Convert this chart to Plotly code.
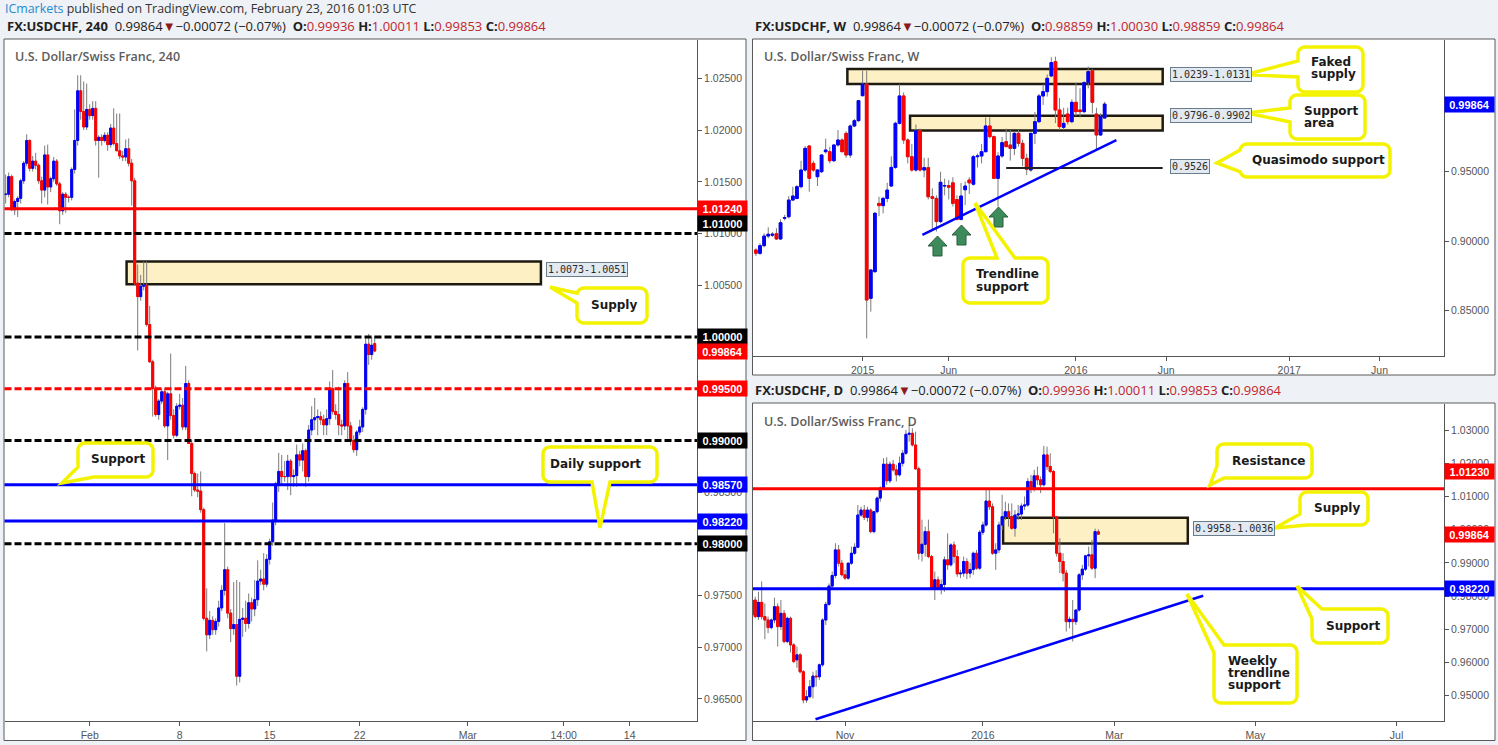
import math
import pandas as pd
import plotly.graph_objects as go

W, H = 1498, 745

# ------------------------------------------------------------------ data
# 4-hour candles (U.S. Dollar/Swiss Franc, 240)
H4_OPEN = [1.0138, 1.0138, 1.0155, 1.0123, 1.0131, 1.0134, 1.0151, 1.0168, 1.0190, 1.0163,
           1.0170, 1.0166, 1.0151, 1.0142, 1.0176, 1.0145, 1.0153, 1.0170, 1.0148, 1.0122,
           1.0138, 1.0135, 1.0135, 1.0162, 1.0190, 1.0238, 1.0218, 1.0203, 1.0220, 1.0214,
           1.0221, 1.0190, 1.0193, 1.0190, 1.0195, 1.0186, 1.0202, 1.0187, 1.0180, 1.0175,
           1.0174, 1.0182, 1.0168, 1.0151, 1.0052, 1.0039, 1.0049, 1.0050, 1.0012, 0.9976,
           0.9950, 0.9925, 0.9938, 0.9947, 0.9914, 0.9945, 0.9924, 0.9905, 0.9933, 0.9934,
           0.9913, 0.9955, 0.9897, 0.9868, 0.9852, 0.9851, 0.9833, 0.9728, 0.9712, 0.9726,
           0.9717, 0.9725, 0.9738, 0.9755, 0.9775, 0.9733, 0.9718, 0.9722, 0.9672, 0.9727,
           0.9728, 0.9723, 0.9743, 0.9737, 0.9746, 0.9764, 0.9766, 0.9761, 0.9785, 0.9802,
           0.9823, 0.9858, 0.9870, 0.9865, 0.9865, 0.9880, 0.9865, 0.9866, 0.9886, 0.9881,
           0.9890, 0.9865, 0.9910, 0.9920, 0.9922, 0.9923, 0.9920, 0.9915, 0.9921, 0.9950,
           0.9928, 0.9925, 0.9915, 0.9914, 0.9955, 0.9914, 0.9900, 0.9891, 0.9908, 0.9913,
           0.9930, 0.9993, 0.9983, 0.99936]
H4_HIGH = [1.0157, 1.0159, 1.0157, 1.0133, 1.0136, 1.0153, 1.0170, 1.0196, 1.0191, 1.0175,
           1.0178, 1.0168, 1.0155, 1.0185, 1.0186, 1.0155, 1.0174, 1.0172, 1.0150, 1.0140,
           1.0140, 1.0137, 1.0164, 1.0220, 1.0253, 1.0253, 1.0247, 1.0245, 1.0225, 1.0228,
           1.0228, 1.0195, 1.0196, 1.0198, 1.0198, 1.0206, 1.0221, 1.0216, 1.0216, 1.0180,
           1.0191, 1.0192, 1.0172, 1.0154, 1.0070, 1.0060, 1.0073, 1.0073, 1.0030, 0.9978,
           0.9953, 0.9940, 0.9950, 0.9950, 0.9947, 0.9984, 0.9930, 0.9936, 0.9945, 0.9941,
           0.9972, 0.9958, 0.9900, 0.9870, 0.9868, 0.9870, 0.9835, 0.9757, 0.9735, 0.9730,
           0.9728, 0.9745, 0.9760, 0.9820, 0.9778, 0.9737, 0.9763, 0.9765, 0.9763, 0.9738,
           0.9745, 0.9752, 0.9748, 0.9765, 0.9784, 0.9775, 0.9791, 0.9790, 0.9805, 0.9840,
           0.9860, 0.9888, 0.9886, 0.9880, 0.9886, 0.9882, 0.9872, 0.9896, 0.9890, 0.9897,
           0.9892, 0.9915, 0.9933, 0.9941, 0.9930, 0.9928, 0.9925, 0.9930, 0.9957, 0.9968,
           0.9935, 0.9952, 0.9920, 0.9958, 0.9966, 0.9918, 0.9905, 0.9910, 0.9920, 0.9932,
           0.9999, 1.0003, 1.0000, 1.00011]
H4_LOW = [1.0129, 1.0135, 1.0122, 1.0118, 1.0116, 1.0129, 1.0148, 1.0165, 1.0160, 1.0160,
          1.0162, 1.0148, 1.0129, 1.0135, 1.0128, 1.0140, 1.0150, 1.0146, 1.0109, 1.0118,
          1.0120, 1.0130, 1.0132, 1.0158, 1.0185, 1.0210, 1.0200, 1.0200, 1.0210, 1.0210,
          1.0185, 1.0154, 1.0185, 1.0188, 1.0180, 1.0183, 1.0185, 1.0180, 1.0172, 1.0170,
          1.0170, 1.0165, 1.0127, 1.0050, 0.9987, 1.0035, 1.0045, 1.0010, 0.9975, 0.9923,
          0.9923, 0.9920, 0.9935, 0.9912, 0.9881, 0.9920, 0.9902, 0.9903, 0.9930, 0.9910,
          0.9910, 0.9897, 0.9846, 0.9850, 0.9845, 0.9830, 0.9726, 0.9696, 0.9708, 0.9712,
          0.9712, 0.9720, 0.9735, 0.9750, 0.9728, 0.9705, 0.9712, 0.9663, 0.9666, 0.9710,
          0.9715, 0.9718, 0.9725, 0.9730, 0.9740, 0.9760, 0.9755, 0.9758, 0.9780, 0.9798,
          0.9818, 0.9850, 0.9856, 0.9860, 0.9852, 0.9847, 0.9855, 0.9855, 0.9875, 0.9870,
          0.9855, 0.9860, 0.9905, 0.9910, 0.9905, 0.9915, 0.9905, 0.9905, 0.9915, 0.9925,
          0.9920, 0.9905, 0.9905, 0.9910, 0.9900, 0.9895, 0.9888, 0.9885, 0.9905, 0.9908,
          0.9925, 0.9973, 0.9978, 0.99853]
H4_CLOSE = [1.0138, 1.0155, 1.0123, 1.0131, 1.0134, 1.0151, 1.0168, 1.0190, 1.0163, 1.0170,
            1.0166, 1.0151, 1.0142, 1.0176, 1.0145, 1.0153, 1.0170, 1.0148, 1.0122, 1.0138,
            1.0135, 1.0135, 1.0162, 1.0190, 1.0238, 1.0218, 1.0203, 1.0220, 1.0214, 1.0221,
            1.0190, 1.0193, 1.0190, 1.0195, 1.0186, 1.0202, 1.0187, 1.0180, 1.0175, 1.0174,
            1.0182, 1.0168, 1.0151, 1.0052, 1.0039, 1.0049, 1.0050, 1.0012, 0.9976, 0.9950,
            0.9925, 0.9938, 0.9947, 0.9914, 0.9945, 0.9924, 0.9905, 0.9933, 0.9934, 0.9913,
            0.9955, 0.9897, 0.9868, 0.9852, 0.9851, 0.9833, 0.9728, 0.9712, 0.9726, 0.9717,
            0.9725, 0.9738, 0.9755, 0.9775, 0.9733, 0.9718, 0.9722, 0.9672, 0.9727, 0.9728,
            0.9723, 0.9743, 0.9737, 0.9746, 0.9764, 0.9766, 0.9761, 0.9785, 0.9802, 0.9823,
            0.9858, 0.9870, 0.9865, 0.9865, 0.9880, 0.9865, 0.9866, 0.9886, 0.9881, 0.9890,
            0.9865, 0.9910, 0.9920, 0.9922, 0.9923, 0.9920, 0.9915, 0.9921, 0.9950, 0.9928,
            0.9925, 0.9915, 0.9914, 0.9955, 0.9914, 0.9900, 0.9891, 0.9908, 0.9913, 0.9930,
            0.9993, 0.9983, 0.9992, 0.99864]
H4_TICK_LABELS = ["Feb", "8", "15", "22", "Mar", "14:00", "14"]
H4_TICK_BARS = [28, 58, 88, 118, 154, 186, 208]
H4_LEVELS = [1.0124, 1.0100, 1.0000, 0.9950, 0.9900, 0.9857, 0.9822, 0.9800]
H4_SUPPLY = (1.0051, 1.0073)

# Weekly candles (U.S. Dollar/Swiss Franc, W), last week starts 2016-02-22
WK_LAST = "2016-02-22"
WK_OPEN = [0.8937, 0.8913, 0.8968, 0.9037, 0.9043, 0.9054, 0.9016, 0.9165, 0.9176, 0.9296,
           0.9308, 0.9392, 0.9512, 0.9685, 0.9560, 0.9464, 0.9500, 0.9644, 0.9644, 0.9579,
           0.9692, 0.9728, 0.9776, 0.9620, 0.9829, 0.9867, 1.0047, 1.0131, 0.8589, 0.8781,
           0.9272, 0.9256, 0.9308, 0.9397, 0.9531, 0.9848, 1.0045, 0.9728, 0.9608, 0.9512,
           0.9795, 0.9512, 0.9529, 0.9320, 0.9308, 0.9141, 0.9397, 0.9400, 0.9420, 0.9300,
           0.9157, 0.9370, 0.9440, 0.9410, 0.9608, 0.9613, 0.9644, 0.9829, 0.9752, 0.9452,
           0.9613, 0.9716, 0.9692, 0.9668, 0.9776, 0.9704, 0.9596, 0.9512, 0.9776, 0.9860,
           1.0045, 1.0076, 1.0189, 1.0292, 0.9944, 0.9819, 0.9915, 0.9860, 0.9999, 0.9944,
           0.9932, 1.0141, 1.0227, 0.9915, 0.9764, 0.98859]
WK_HIGH = [0.8949, 0.8985, 0.9057, 0.9100, 0.9065, 0.9093, 0.9157, 0.9190, 0.9325, 0.9392,
           0.9404, 0.9579, 0.9685, 0.9692, 0.9579, 0.9520, 0.9625, 0.9738, 0.9680, 0.9700,
           0.9800, 0.9740, 0.9790, 0.9840, 0.9880, 1.0015, 1.0227, 1.0227, 0.8800, 0.9210,
           0.9320, 0.9320, 0.9420, 0.9610, 0.9860, 1.0129, 1.0070, 0.9740, 0.9700, 0.9840,
           0.9810, 0.9600, 0.9600, 0.9380, 0.9330, 0.9500, 0.9450, 0.9440, 0.9460, 0.9330,
           0.9420, 0.9430, 0.9460, 0.9620, 0.9630, 0.9700, 0.9890, 0.9891, 0.9760, 0.9640,
           0.9750, 0.9810, 0.9800, 0.9790, 0.9800, 0.9730, 0.9630, 0.9780, 0.9930, 1.0060,
           1.0130, 1.0200, 1.0323, 1.0328, 1.0030, 0.9960, 0.9960, 1.0020, 1.0140, 1.0100,
           1.0150, 1.0257, 1.0240, 0.9960, 0.9920, 1.00030]
WK_LOW = [0.8894, 0.8901, 0.8956, 0.9021, 0.9030, 0.9009, 0.9009, 0.9150, 0.9165, 0.9291,
          0.9301, 0.9380, 0.9500, 0.9356, 0.9500, 0.9397, 0.9490, 0.9630, 0.9560, 0.9570,
          0.9680, 0.9640, 0.9600, 0.9600, 0.9820, 0.9860, 1.0040, 0.8301, 0.8493, 0.8770,
          0.9180, 0.9200, 0.9280, 0.9390, 0.9520, 0.9840, 0.9700, 0.9560, 0.9500, 0.9500,
          0.9500, 0.9460, 0.9300, 0.9081, 0.9070, 0.9130, 0.9330, 0.9300, 0.9250, 0.9150,
          0.9150, 0.9260, 0.9340, 0.9400, 0.9530, 0.9560, 0.9640, 0.9740, 0.9450, 0.9248,
          0.9600, 0.9680, 0.9580, 0.9620, 0.9680, 0.9540, 0.9476, 0.9500, 0.9700, 0.9850,
          0.9980, 1.0040, 1.0180, 0.9850, 0.9800, 0.9800, 0.9840, 0.9850, 0.9900, 0.9890,
          0.9920, 1.0100, 0.9920, 0.9660, 0.9760, 0.98859]
WK_CLOSE = [0.8913, 0.8968, 0.9037, 0.9050, 0.9050, 0.9016, 0.9133, 0.9169, 0.9296, 0.9325,
            0.9392, 0.9512, 0.9668, 0.9452, 0.9512, 0.9512, 0.9620, 0.9656, 0.9579, 0.9692,
            0.9728, 0.9644, 0.9620, 0.9829, 0.9867, 1.0011, 1.0131, 0.8577, 0.8793, 0.9201,
            0.9256, 0.9308, 0.9368, 0.9531, 0.9848, 1.0045, 0.9728, 0.9608, 0.9512, 0.9795,
            0.9512, 0.9529, 0.9320, 0.9308, 0.9141, 0.9424, 0.9400, 0.9388, 0.9272, 0.9157,
            0.9325, 0.9397, 0.9420, 0.9608, 0.9613, 0.9644, 0.9829, 0.9752, 0.9452, 0.9613,
            0.9709, 0.9680, 0.9668, 0.9776, 0.9704, 0.9596, 0.9517, 0.9776, 0.9860, 1.0045,
            1.0076, 1.0172, 1.0285, 0.9944, 0.9824, 0.9848, 0.9860, 0.9999, 0.9932, 0.9932,
            1.0141, 1.0220, 0.9999, 0.9764, 0.9896, 0.99864]
WK_TICK_LABELS = ["2015", "Jun", "2016", "Jun", "2017", "Jun"]
WK_TICK_DATES = ["2015-01-05", "2015-06-01", "2016-01-04", "2016-06-06", "2017-01-02", "2017-06-05"]
WK_FAKED_SUPPLY = (1.0131, 1.0239)
WK_SUPPORT_AREA = (0.9796, 0.9902)
WK_QUASIMODO = 0.9526
WK_TREND = (("2015-04-17", 0.9045), ("2016-03-13", 0.9728))

# Daily candles (U.S. Dollar/Swiss Franc, D), last day 2016-02-23
D_LAST = "2016-02-23"
D_HOLIDAYS = ["2015-12-25", "2016-01-01"]
D_OPEN = [0.9750, 0.9743, 0.9788, 0.9738, 0.9781, 0.9738, 0.9728, 0.9705, 0.9728, 0.9768,
          0.9708, 0.9748, 0.9663, 0.9733, 0.9653, 0.9608, 0.9623, 0.9572, 0.9487, 0.9497,
          0.9527, 0.9559, 0.9557, 0.9593, 0.9728, 0.9775, 0.9830, 0.9862, 0.9939, 0.9899,
          0.9864, 0.9854, 0.9899, 0.9929, 0.9947, 1.0044, 1.0059, 1.0037, 1.0059, 0.9994,
          1.0054, 1.0095, 1.0125, 1.0197, 1.0147, 1.0197, 1.0180, 1.0165, 1.0200, 1.0230,
          1.0287, 1.0290, 1.0255, 1.0183, 0.9929, 0.9956, 0.9994, 0.9919, 0.9823, 0.9849,
          0.9823, 0.9835, 0.9909, 0.9894, 0.9954, 0.9919, 0.9867, 0.9869, 0.9904, 0.9869,
          0.9880, 0.9929, 0.9884, 0.9992, 1.0014, 1.0086, 1.0069, 0.9929, 0.9939, 1.0014,
          1.0039, 1.0054, 1.0039, 1.0004, 1.0044, 1.0047, 1.0071, 1.0074, 1.0145, 1.0125,
          1.0162, 1.0150, 1.0135, 1.0225, 1.0190, 1.0175, 1.0039, 0.9929, 0.9904, 0.9869,
          0.9723, 0.9730, 0.9723, 0.9758, 0.9864, 0.9881, 0.9921, 0.9924, 0.9884, 0.99936]
D_HIGH = [0.9770, 0.9798, 0.9798, 0.9813, 0.9844, 0.9778, 0.9738, 0.9733, 0.9795, 0.9778,
          0.9788, 0.9758, 0.9738, 0.9738, 0.9658, 0.9648, 0.9628, 0.9577, 0.9517, 0.9547,
          0.9572, 0.9577, 0.9597, 0.9733, 0.9783, 0.9838, 0.9874, 0.9959, 0.9954, 0.9909,
          0.9879, 0.9901, 0.9949, 0.9959, 1.0074, 1.0069, 1.0074, 1.0069, 1.0064, 1.0054,
          1.0100, 1.0130, 1.0215, 1.0218, 1.0205, 1.0210, 1.0195, 1.0220, 1.0240, 1.0300,
          1.0315, 1.0305, 1.0295, 1.0190, 1.0030, 1.0009, 1.0030, 0.9924, 0.9874, 0.9859,
          0.9850, 0.9919, 0.9989, 0.9959, 0.9964, 0.9939, 0.9879, 0.9919, 0.9914, 0.9900,
          0.9934, 0.9939, 0.9999, 1.0024, 1.0125, 1.0125, 1.0079, 0.9959, 1.0024, 1.0105,
          1.0084, 1.0079, 1.0079, 1.0059, 1.0074, 1.0079, 1.0100, 1.0155, 1.0165, 1.0180,
          1.0190, 1.0160, 1.0252, 1.0250, 1.0230, 1.0180, 1.0039, 0.9974, 0.9929, 0.9879,
          0.9738, 0.9788, 0.9758, 0.9869, 0.9894, 0.9924, 0.9949, 0.9969, 1.0003, 1.00011]
D_LOW = [0.9710, 0.9710, 0.9733, 0.9728, 0.9730, 0.9670, 0.9688, 0.9700, 0.9718, 0.9648,
         0.9698, 0.9658, 0.9658, 0.9630, 0.9598, 0.9584, 0.9567, 0.9477, 0.9479, 0.9492,
         0.9492, 0.9527, 0.9547, 0.9587, 0.9713, 0.9771, 0.9823, 0.9854, 0.9889, 0.9859,
         0.9849, 0.9849, 0.9894, 0.9924, 0.9944, 1.0039, 1.0029, 1.0024, 0.9989, 0.9989,
         1.0049, 1.0084, 1.0120, 1.0135, 1.0140, 1.0175, 1.0145, 1.0160, 1.0190, 1.0225,
         1.0265, 1.0250, 1.0180, 0.9910, 0.9904, 0.9919, 0.9914, 0.9818, 0.9788, 0.9818,
         0.9805, 0.9813, 0.9879, 0.9889, 0.9899, 0.9858, 0.9854, 0.9858, 0.9851, 0.9855,
         0.9864, 0.9879, 0.9879, 0.9984, 1.0009, 1.0059, 0.9924, 0.9879, 0.9929, 0.9999,
         1.0029, 1.0009, 1.0000, 0.9979, 1.0029, 1.0029, 1.0059, 1.0069, 1.0110, 1.0115,
         1.0135, 1.0110, 1.0130, 1.0180, 1.0170, 0.9989, 0.9919, 0.9869, 0.9844, 0.9693,
         0.9703, 0.9663, 0.9713, 0.9753, 0.9849, 0.9876, 0.9889, 0.9879, 0.9854, 0.99853]
D_CLOSE = [0.9743, 0.9788, 0.9738, 0.9781, 0.9738, 0.9728, 0.9705, 0.9728, 0.9768, 0.9708,
           0.9748, 0.9663, 0.9733, 0.9653, 0.9603, 0.9623, 0.9572, 0.9487, 0.9497, 0.9527,
           0.9559, 0.9557, 0.9593, 0.9728, 0.9775, 0.9830, 0.9862, 0.9939, 0.9899, 0.9864,
           0.9854, 0.9899, 0.9929, 0.9947, 1.0044, 1.0059, 1.0037, 1.0059, 0.9994, 1.0054,
           1.0095, 1.0125, 1.0197, 1.0147, 1.0197, 1.0180, 1.0165, 1.0200, 1.0230, 1.0287,
           1.0290, 1.0255, 1.0183, 0.9929, 0.9956, 0.9994, 0.9919, 0.9823, 0.9849, 0.9823,
           0.9835, 0.9909, 0.9894, 0.9954, 0.9919, 0.9867, 0.9869, 0.9904, 0.9869, 0.9880,
           0.9929, 0.9884, 0.9992, 1.0014, 1.0086, 1.0069, 0.9929, 0.9939, 1.0014, 1.0039,
           1.0054, 1.0039, 1.0004, 1.0044, 1.0047, 1.0071, 1.0074, 1.0145, 1.0125, 1.0162,
           1.0150, 1.0135, 1.0225, 1.0190, 1.0175, 1.0039, 0.9929, 0.9904, 0.9869, 0.9723,
           0.9730, 0.9723, 0.9758, 0.9864, 0.9881, 0.9921, 0.9924, 0.9884, 0.9994, 0.99864]
D_TICK_LABELS = ["Nov", "2016", "Mar", "May", "Jul"]
D_TICK_MONTHS = ["2015-11-01", "2016-01-01", "2016-03-01", "2016-05-01", "2016-07-01"]
D_RESISTANCE = 1.0123
D_SUPPORT = 0.9822
D_SUPPLY = (0.9958, 1.0036)
D_TREND = ((20.8, 0.9429), (141.7, 0.9801))

# ------------------------------------------------------------------ style
BLUE, RED, BLACK = "#0000ff", "#ff0000", "#000000"
WICK = "#7b7b7b"
AXIS = "#555555"
ZONE_FILL, ZONE_LINE = "#fdf0c4", "#1e1a10"
YELLOW = "#f3f300"
VALRED = "#c0272d"
TICKFONT = dict(family="Arial", size=10.5, color="#555555")


def px(x):
    return x / W


def py(y):
    return 1 - y / H


fig = go.Figure()


def add_candles(x, o, h, l, c, xa, ya):
    fig.add_trace(go.Candlestick(
        x=x, open=o, high=h, low=l, close=c, xaxis=xa, yaxis=ya,
        increasing=dict(line=dict(color=WICK, width=1), fillcolor=WICK),
        decreasing=dict(line=dict(color=WICK, width=1), fillcolor=WICK),
        whiskerwidth=0, hoverinfo="skip", showlegend=False))
    top = [max(a, b) for a, b in zip(o, c)]
    bot = [min(a, b) for a, b in zip(o, c)]
    fig.add_trace(go.Candlestick(
        x=x, open=o, high=top, low=bot, close=c, xaxis=xa, yaxis=ya,
        increasing=dict(line=dict(color=BLUE, width=1), fillcolor=BLUE),
        decreasing=dict(line=dict(color=RED, width=1), fillcolor=RED),
        whiskerwidth=0, hoverinfo="skip", showlegend=False))


# 4h
h4_x = list(range(len(H4_OPEN)))
add_candles(h4_x, H4_OPEN, H4_HIGH, H4_LOW, H4_CLOSE, "x", "y")
# weekly
wk_x = pd.date_range(end=WK_LAST, periods=len(WK_OPEN), freq="7D")
add_candles(wk_x, WK_OPEN, WK_HIGH, WK_LOW, WK_CLOSE, "x2", "y2")
# daily (trading-day index)
cbd = pd.offsets.CustomBusinessDay(holidays=D_HOLIDAYS)
d_dates = pd.date_range(end=D_LAST, periods=len(D_OPEN), freq=cbd)
cal = pd.date_range(start=d_dates[0], periods=400, freq=cbd)
d_tickvals = [int((cal < pd.Timestamp(m)).sum()) for m in D_TICK_MONTHS]
d_x = list(range(len(D_OPEN)))
add_candles(d_x, D_OPEN, D_HIGH, D_LOW, D_CLOSE, "x3", "y3")
d_last = len(D_OPEN) - 1

# ------------------------------------------------------------------ axes
xcommon = dict(showgrid=False, zeroline=False, showline=True, linecolor=AXIS, linewidth=1,
               ticks="outside", ticklen=4, tickcolor=AXIS, tickfont=TICKFONT,
               rangeslider=dict(visible=False), fixedrange=True)
ycommon = dict(showgrid=False, zeroline=False, showline=True, linecolor=AXIS, linewidth=1,
               side="right", ticks="outside", ticklen=4, tickcolor=AXIS, tickfont=TICKFONT,
               tickformat=".5f", tick0=0, fixedrange=True)

fig.update_layout(
    width=W, height=H, autosize=False,
    margin=dict(l=0, r=0, t=0, b=0, pad=0),
    paper_bgcolor="#eef1f5", plot_bgcolor="white",
    hovermode=False, showlegend=False, dragmode=False,
    boxgap=0.35, boxgroupgap=0,
    xaxis=dict(xcommon, domain=[px(4.5), px(697)], anchor="y", range=[-0.4, 230.43],
               tickmode="array", tickvals=H4_TICK_BARS, ticktext=H4_TICK_LABELS),
    yaxis=dict(ycommon, domain=[py(721), py(39.5)], anchor="x", range=[0.96287, 1.02876], dtick=0.005),
    xaxis2=dict(xcommon, type="date", domain=[px(753), px(1444)], anchor="y2",
                range=["2014-07-02", "2017-09-23"],
                tickmode="array", tickvals=WK_TICK_DATES, ticktext=WK_TICK_LABELS),
    yaxis2=dict(ycommon, domain=[py(356), py(39.5)], anchor="x2", range=[0.81741, 1.04511], dtick=0.05),
    xaxis3=dict(xcommon, domain=[px(753), px(1444)], anchor="y3",
                range=[d_last - 107.7, d_last + 107.8],
                tickmode="array", tickvals=d_tickvals, ticktext=D_TICK_LABELS),
    yaxis3=dict(ycommon, domain=[py(721), py(403.5)], anchor="x3", range=[0.94238, 1.03798], dtick=0.01),
)

shapes = []
# panel frames
for (x0, y0, x1, y1) in [(4, 39, 746, 740.5), (752.5, 39, 1495, 375), (752.5, 403, 1495, 740.5)]:
    shapes.append(dict(type="rect", xref="paper", yref="paper", x0=px(x0), x1=px(x1),
                       y0=py(y1), y1=py(y0), line=dict(color="#5a5a5a", width=1),
                       fillcolor="white", layer="below"))

# zones
def zone(xr, yr, x0, x1, lo, hi):
    shapes.append(dict(type="rect", xref=xr, yref=yr, x0=x0, x1=x1, y0=lo, y1=hi,
                       fillcolor=ZONE_FILL, line=dict(color=ZONE_LINE, width=2.5), layer="below"))


zone("x", "y", 40.3, 178.4, *H4_SUPPLY)
zone("x2", "y2", "2014-12-10", "2016-05-31", *WK_FAKED_SUPPLY)
zone("x2", "y2", "2015-03-27", "2016-05-31", *WK_SUPPORT_AREA)
zone("x3", "y3", 79.3, 136.9, *D_SUPPLY)

# horizontal levels on the 4h chart
h4_styles = [(RED, "solid"), (BLACK, "7px,3px"), (BLACK, "7px,3px"), (RED, "7px,3px"),
             (BLACK, "7px,3px"), (BLUE, "solid"), (BLUE, "solid"), (BLACK, "7px,3px")]
for lvl, (col, dash) in zip(H4_LEVELS, h4_styles):
    shapes.append(dict(type="line", xref="x domain", yref="y", x0=0, x1=1, y0=lvl, y1=lvl,
                       line=dict(color=col, width=3, dash=dash), layer="above"))

# weekly lines
shapes.append(dict(type="line", xref="x2", yref="y2", x0="2015-09-07", x1="2016-05-31",
                   y0=WK_QUASIMODO, y1=WK_QUASIMODO, line=dict(color="#222222", width=2)))
shapes.append(dict(type="line", xref="x2", yref="y2", x0=WK_TREND[0][0], y0=WK_TREND[0][1],
                   x1=WK_TREND[1][0], y1=WK_TREND[1][1], line=dict(color=BLUE, width=2.5)))
# daily lines
for lvl, col in [(D_RESISTANCE, RED), (D_SUPPORT, BLUE)]:
    shapes.append(dict(type="line", xref="x3 domain", yref="y3", x0=0, x1=1, y0=lvl, y1=lvl,
                       line=dict(color=col, width=3)))
shapes.append(dict(type="line", xref="x3", yref="y3", x0=D_TREND[0][0], y0=D_TREND[0][1],
                   x1=D_TREND[1][0], y1=D_TREND[1][1], line=dict(color=BLUE, width=2.5)))


# green arrows on weekly
def arrow_path(cx, top, w=19, head=10, stem=9, total=20):
    pts = [(cx, top), (cx + w / 2, top + head), (cx + stem / 2, top + head), (cx + stem / 2, top + total),
           (cx - stem / 2, top + total), (cx - stem / 2, top + head), (cx - w / 2, top + head)]
    return "M " + " L ".join(f"{px(a):.5f},{py(b):.5f}" for a, b in pts) + " Z"


for cx, top in [(937.5, 236), (961.5, 225), (998.5, 207)]:
    shapes.append(dict(type="path", xref="paper", yref="paper", path=arrow_path(cx, top),
                       fillcolor="#3d8b5b", line=dict(color="#2a5d3d", width=1), layer="above"))


# callouts
def rounded_pts(x0, y0, x1, y1, r=7, n=6):
    pts = []
    for cx, cy, a0 in [(x1 - r, y0 + r, -90), (x1 - r, y1 - r, 0), (x0 + r, y1 - r, 90), (x0 + r, y0 + r, 180)]:
        for k in range(n + 1):
            a = math.radians(a0 + 90 * k / n)
            pts.append((cx + r * math.cos(a), cy + r * math.sin(a)))
    return pts


def callout_path(box, p1, p2, tip, r=7):
    pts = rounded_pts(*box, r=r)
    n = len(pts)
    seg, cum = [], [0.0]
    for i in range(n):
        a, b = pts[i], pts[(i + 1) % n]
        L = math.hypot(b[0] - a[0], b[1] - a[1])
        seg.append(L)
        cum.append(cum[-1] + L)
    S = cum[-1]

    def project(q):
        best = None
        for i in range(n):
            a, b = pts[i], pts[(i + 1) % n]
            dx, dy = b[0] - a[0], b[1] - a[1]
            L2 = dx * dx + dy * dy
            t = 0 if L2 == 0 else max(0.0, min(1.0, ((q[0] - a[0]) * dx + (q[1] - a[1]) * dy) / L2))
            pr = (a[0] + t * dx, a[1] + t * dy)
            d = math.hypot(q[0] - pr[0], q[1] - pr[1])
            if best is None or d < best[0]:
                best = (d, i, cum[i] + t * seg[i], pr)
        return best[1], best[2], best[3]

    i1, s1, q1 = project(p1)
    i2, s2, q2 = project(p2)
    if (s2 - s1) % S > S / 2:
        i1, s1, q1, i2, s2, q2 = i2, s2, q2, i1, s1, q1
    poly = [q2]
    idx = (i2 + 1) % n
    while True:
        poly.append(pts[idx])
        if idx == i1:
            break
        idx = (idx + 1) % n
    poly += [q1, tip]
    return "M " + " L ".join(f"{px(a):.5f},{py(b):.5f}" for a, b in poly) + " Z"


CALLOUTS = [
    # 240
    dict(box=(577, 288, 647, 323), p1=(577, 293), p2=(577, 303), tip=(550, 287),
         lines=[("Supply", 589, 305)]),
    dict(box=(78, 443, 153, 477), p1=(78, 467), p2=(94, 477), tip=(62, 483),
         lines=[("Support", 89, 459)]),
    dict(box=(543, 447, 657, 482), p1=(592, 482), p2=(610, 482), tip=(600, 528),
         lines=[("Daily support", 548, 463.5)]),
    # weekly
    dict(box=(1298, 47, 1363, 92), p1=(1298, 61), p2=(1298, 77), tip=(1246, 74.5),
         lines=[("Faked", 1309, 62), ("supply", 1309, 74.5)]),
    dict(box=(1290, 95, 1365, 139), p1=(1290, 108), p2=(1290, 122), tip=(1247, 113),
         lines=[("Support", 1302, 110.5), ("area", 1302, 122.5)]),
    dict(box=(1240, 144, 1390, 177), p1=(1240, 150), p2=(1240, 172), tip=(1217, 163),
         lines=[("Quasimodo support", 1250, 159.5)]),
    dict(box=(963, 258, 1048, 303), p1=(997, 258), p2=(1015, 258), tip=(975, 203),
         lines=[("Trendline", 974, 274.5), ("support", 974, 286.5)]),
    # daily
    dict(box=(1217, 444, 1312, 478), p1=(1217, 466), p2=(1224, 478), tip=(1210, 485),
         lines=[("Resistance", 1230, 461)]),
    dict(box=(1300, 492, 1368, 525), p1=(1300, 514), p2=(1307, 525), tip=(1275, 528),
         lines=[("Supply", 1312, 508)]),
    dict(box=(1312, 609, 1388, 643), p1=(1312, 619), p2=(1322, 609), tip=(1297, 586),
         lines=[("Support", 1324, 626)]),
    dict(box=(1214, 645, 1297, 703), p1=(1214, 653), p2=(1224, 645), tip=(1187, 594),
         lines=[("Weekly", 1225.5, 660.5), ("trendline", 1225.5, 672.5), ("support", 1225.5, 684.5)]),
]

annotations = []
for co in CALLOUTS:
    shapes.append(dict(type="path", xref="paper", yref="paper",
                       path=callout_path(co["box"], co["p1"], co["p2"], co["tip"]),
                       fillcolor="white", line=dict(color=YELLOW, width=3.5), layer="above"))
    for txt, tx, ty in co["lines"]:
        annotations.append(dict(xref="paper", yref="paper", x=px(tx), y=py(ty), xanchor="left",
                                yanchor="middle", text=txt, showarrow=False,
                                font=dict(family="DejaVu Sans", size=12, color="#1a1a1a", weight="bold")))

# zone value labels
for txt, lx, ly in [("1.0073-1.0051", 546, 270), ("1.0239-1.0131", 1169.5, 74.5),
                    ("0.9796-0.9902", 1169.5, 115.5), ("0.9526", 1169.5, 167),
                    ("0.9958-1.0036", 1193, 528)]:
    annotations.append(dict(xref="paper", yref="paper", x=px(lx), y=py(ly), xanchor="left",
                            yanchor="middle", text=txt, showarrow=False, bgcolor="#e2e9f0",
                            bordercolor="#6a7d8d", borderwidth=1, borderpad=1,
                            font=dict(family="DejaVu Sans Mono", size=10, color="#2b2b2b")))


# price-scale labels
def price_label(yref, xpix, y, txt, col):
    annotations.append(dict(xref="paper", yref=yref, x=px(xpix), y=y, xanchor="left",
                            yanchor="middle", text=f"<b>{txt}</b>", showarrow=False,
                            bgcolor=col, borderpad=1, width=47, height=13, align="center",
                            font=dict(family="Arial", size=11, color="white")))


h4_label_cols = [RED, BLACK, BLACK, RED, BLACK, BLUE, BLUE, BLACK]
h4_label_pos = [1.0124, 1.01097, 1.0000, 0.9950, 0.9900, 0.9857, 0.9822, 0.9800]
for lvl, pos, col in zip(H4_LEVELS, h4_label_pos, h4_label_cols):
    price_label("y", 697, pos, f"{lvl:.5f}", col)
price_label("y", 697, H4_CLOSE[-1], f"{H4_CLOSE[-1]:.5f}", RED)
price_label("y2", 1444, WK_CLOSE[-1], f"{WK_CLOSE[-1]:.5f}", BLUE)
price_label("y3", 1444, 1.0175, f"{D_RESISTANCE:.5f}", RED)
price_label("y3", 1444, D_CLOSE[-1], f"{D_CLOSE[-1]:.5f}", RED)
price_label("y3", 1444, D_SUPPORT, f"{D_SUPPORT:.5f}", BLUE)


# header texts
def header(tf, o, h, l, c):
    v = lambda z: f"<span style='color:{VALRED}'>{z:.5f}</span>"
    return (f"<b>FX:USDCHF, {tf}</b>  0.99864<span style='color:#8b1a1a'>\u25bc</span>"
            f"\u22120.00072 (\u22120.07%)  <b>O:</b>{v(o)} <b>H:</b>{v(h)} <b>L:</b>{v(l)} <b>C:</b>{v(c)}")


HFONT = dict(family="Open Sans", size=13, color="#222222")
annotations.append(dict(xref="paper", yref="paper", x=px(3), y=py(8), xanchor="left", yanchor="middle",
                        showarrow=False, font=dict(family="Open Sans", size=12.4, color="#333333"),
                        text="<span style='color:#1e8bd0'>ICmarkets</span> published on TradingView.com, "
                             "February 23, 2016 01:03 UTC"))
for tf, xx, yy, arr in [("240", 5, 25.5, (H4_OPEN, H4_HIGH, H4_LOW, H4_CLOSE)),
                        ("W", 753, 25.5, (WK_OPEN, WK_HIGH, WK_LOW, WK_CLOSE)),
                        ("D", 753, 390, (D_OPEN, D_HIGH, D_LOW, D_CLOSE))]:
    annotations.append(dict(xref="paper", yref="paper", x=px(xx), y=py(yy), xanchor="left",
                            yanchor="middle", showarrow=False, font=HFONT,
                            text=header(tf, arr[0][-1], arr[1][-1], arr[2][-1], arr[3][-1])))

TFONT = dict(family="Open Sans", size=12.5, color="#5c5c5c", weight=600)
for txt, xx, yy in [("U.S. Dollar/Swiss Franc, 240", 13, 57),
                    ("U.S. Dollar/Swiss Franc, W", 761.5, 57),
                    ("U.S. Dollar/Swiss Franc, D", 761.5, 421)]:
    annotations.append(dict(xref="paper", yref="paper", x=px(xx), y=py(yy), xanchor="left",
                            yanchor="middle", showarrow=False, font=TFONT, text=txt))

fig.update_layout(shapes=shapes, annotations=annotations)
fig.write_html("out.html", config={"displayModeBar": False, "staticPlot": True},
               post_script="document.body.style.margin='0';document.body.style.overflow='hidden';")
